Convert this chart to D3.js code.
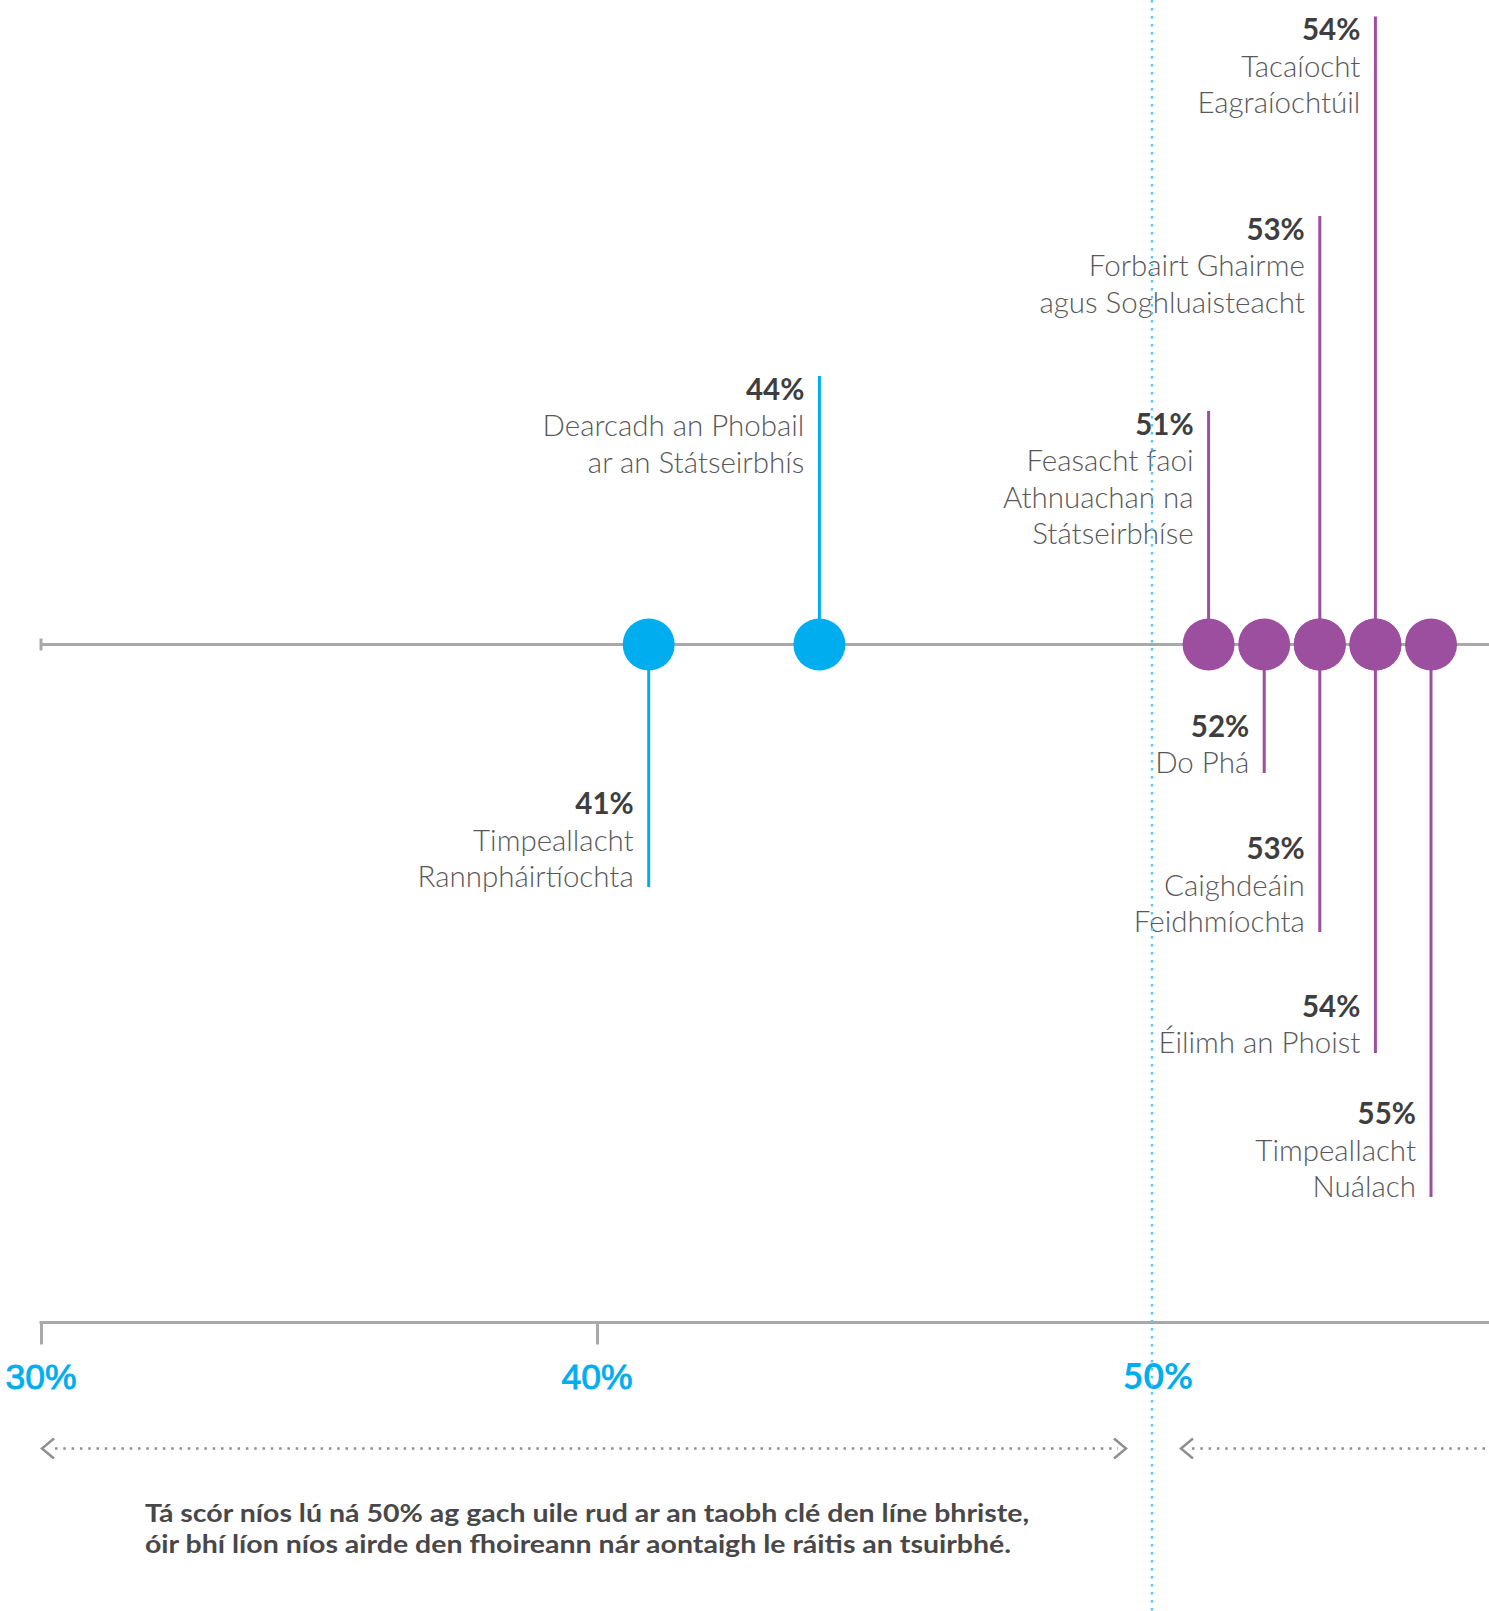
<!DOCTYPE html>
<html>
<head>
<meta charset="utf-8">
<script src="https://cdn.jsdelivr.net/npm/d3@7"></script>
<style>
  html, body { margin: 0; padding: 0; background: #fff; }
  svg { display: block; }
</style>
</head>
<body>
<svg id="chart" width="1489" height="1611"></svg>
<script>
// ---- data ----
const categories = [
  "Timpeallacht Rannpháirtíochta",
  "Dearcadh an Phobail ar an Státseirbhís",
  "Feasacht faoi Athnuachan na Státseirbhíse",
  "Do Phá",
  "Forbairt Ghairme agus Soghluaisteacht",
  "Caighdeáin Feidhmíochta",
  "Tacaíocht Eagraíochtúil",
  "Éilimh an Phoist",
  "Timpeallacht Nuálach"
];
const values = [40.93, 44, 51, 52, 53, 53, 54, 54, 55];
const labelLines = [
  ["Timpeallacht", "Rannpháirtíochta"],
  ["Dearcadh an Phobail", "ar an Státseirbhís"],
  ["Feasacht faoi", "Athnuachan na", "Státseirbhíse"],
  ["Do Phá"],
  ["Forbairt Ghairme", "agus Soghluaisteacht"],
  ["Caighdeáin", "Feidhmíochta"],
  ["Tacaíocht", "Eagraíochtúil"],
  ["Éilimh an Phoist"],
  ["Timpeallacht", "Nuálach"]
];
const tickValues = [30, 40, 50];
const tickLabels = ["30%", "40%", "50%"];
const threshold = 50;
const footnote = [
  "Tá scór níos lú ná 50% ag gach uile rud ar an taobh clé den líne bhriste,",
  "óir bhí líon níos airde den fhoireann nár aontaigh le ráitis an tsuirbhé."
];

// ---- layout (not data) ----
const labelDir = ["down", "up", "up", "down", "up", "down", "up", "down", "down"];
const stemEnd = [887, 376, 411, 773, 216, 932, 16.5, 1053, 1197];

const W = 1489, H = 1611;
const BLUE = "#00aeef", PURPLE = "#9c4f9e", GRAY = "#a9a9ab";
const lineY = 644.5, axisY = 1322.5, r = 26, lh = 36.5;

const svg = d3.select("#chart");
const x = d3.scaleLinear().domain([30, 55]).range([41, 1431]);
const color = v => v < threshold ? BLUE : PURPLE;

// center line
svg.append("line").attr("x1", x(30)).attr("x2", W).attr("y1", lineY).attr("y2", lineY)
  .attr("stroke", GRAY).attr("stroke-width", 3);
svg.append("line").attr("x1", x(30)).attr("x2", x(30)).attr("y1", lineY - 6).attr("y2", lineY + 6)
  .attr("stroke", GRAY).attr("stroke-width", 3);

const items = values.map((v, i) => ({v, i, name: categories[i], lines: labelLines[i], dir: labelDir[i], end: stemEnd[i]}));

// stems
svg.append("g").selectAll("line").data(items).join("line")
  .attr("x1", d => x(d.v)).attr("x2", d => x(d.v))
  .attr("y1", lineY).attr("y2", d => d.end)
  .attr("stroke", d => color(d.v)).attr("stroke-width", 3);

// dots
svg.append("g").selectAll("circle").data(items).join("circle")
  .attr("cx", d => x(d.v)).attr("cy", lineY).attr("r", r)
  .attr("fill", d => color(d.v));

// labels
const lg = svg.append("g").selectAll("g").data(items).join("g");
lg.each(function(d) {
  const g = d3.select(this);
  const tx = x(d.v) - 15;
  const n = d.lines.length;
  const pctY = d.dir === "up" ? d.end + 23.5 : d.end - lh * n;
  g.append("text").attr("x", tx).attr("y", pctY)
    .attr("text-anchor", "end").attr("font-family", "Lato, sans-serif")
    .attr("font-weight", 700).attr("font-size", 29.5).attr("fill", "#3e3e40")
    .text(Math.round(d.v) + "%");
  d.lines.forEach((t, k) => {
    g.append("text").attr("x", tx).attr("y", pctY + lh * (k + 1))
      .attr("text-anchor", "end").attr("font-family", "Lato, sans-serif")
      .attr("font-weight", 300).attr("font-size", 29.5).attr("fill", "#58585a")
      .text(t);
  });
});

// bottom axis
const axis = d3.axisBottom(x).tickValues(tickValues.filter(t => t !== threshold)).tickSize(22).tickFormat("");
const ag = svg.append("g").attr("transform", `translate(0,${axisY})`).call(axis);
ag.select(".domain").remove();
ag.selectAll(".tick line").attr("stroke", GRAY).attr("stroke-width", 3);
svg.append("line").attr("x1", x(30) - 1.5).attr("x2", W).attr("y1", axisY).attr("y2", axisY)
  .attr("stroke", GRAY).attr("stroke-width", 3);

svg.append("g").selectAll("text").data(tickValues).join("text")
  .attr("x", (d) => x(d) + (d === threshold ? 5 : 0))
  .attr("y", 1389)
  .attr("text-anchor", "middle")
  .attr("font-family", d => d === threshold ? "Lato, sans-serif" : "'Liberation Sans', Arial, sans-serif")
  .attr("font-weight", d => d === threshold ? 700 : 400)
  .attr("font-size", 35.5)
  .attr("fill", BLUE)
  .attr("stroke", d => d === threshold ? "none" : BLUE)
  .attr("stroke-width", 0.9)
  .text((d, i) => tickLabels[i]);

// arrows
const arrowY = 1448.5;
const ARR = "#8f8f91";
function dotted(x1, x2) {
  svg.append("line").attr("x1", x1).attr("x2", x2).attr("y1", arrowY).attr("y2", arrowY)
    .attr("stroke", ARR).attr("stroke-width", 2.5).attr("stroke-dasharray", "2.5,5.8");
}
function chevron(tipX, dir) {
  svg.append("path")
    .attr("d", `M${tipX + dir * 12},${arrowY - 10} L${tipX},${arrowY} L${tipX + dir * 12},${arrowY + 10}`)
    .attr("fill", "none").attr("stroke", ARR).attr("stroke-width", 2.5);
}
chevron(42, 1); dotted(55, 1118); chevron(1126, -1);
chevron(1181, 1); dotted(1192, W);

// footnote: width as for 28.5px bold, slightly condensed height
const fnTexts = svg.append("g").selectAll("text").data(footnote).join("text")
  .attr("x", 145).attr("y", (d, i) => 1522 + i * 30.5)
  .attr("font-family", "Lato, sans-serif").attr("font-weight", 700)
  .attr("font-size", 28.5).attr("fill", "#48484a")
  .text(d => d);
fnTexts.each(function() {
  const w = this.getComputedTextLength();
  d3.select(this).attr("font-size", 25).attr("textLength", w).attr("lengthAdjust", "spacingAndGlyphs");
});

// threshold dotted line (on top)
svg.append("line").attr("x1", x(threshold) - 1).attr("x2", x(threshold) - 1).attr("y1", 0).attr("y2", H)
  .attr("stroke", "#5cc8f4").attr("stroke-width", 2.5).attr("stroke-dasharray", "2.5,5.5");
</script>
</body>
</html>
